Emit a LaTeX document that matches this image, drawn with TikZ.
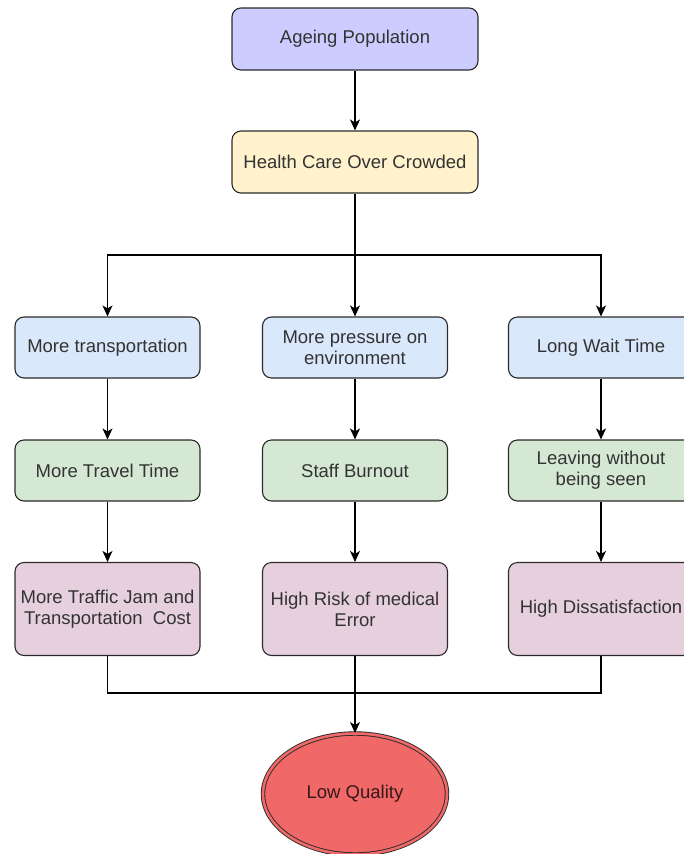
\documentclass[tikz,border=0pt]{standalone}
\usepackage{fontspec}
\setmainfont{Liberation Sans}
\usetikzlibrary{arrows.meta,shapes.geometric}

\definecolor{lavender}{HTML}{CCCCFF}
\definecolor{cream}{HTML}{FFF2CC}
\definecolor{paleblue}{HTML}{DAE8FC}
\definecolor{palegreen}{HTML}{D5E8D4}
\definecolor{palepink}{HTML}{E6D0DE}
\definecolor{warnred}{HTML}{F06868}
\definecolor{inkgray}{HTML}{333333}
\definecolor{edgegray}{HTML}{2B2B2B}

\begin{document}
\begin{tikzpicture}[x=1pt,y=-1pt,
  box/.style={rectangle, rounded corners=9pt, draw=edgegray, line width=1.1pt,
    align=center, text=inkgray, inner sep=2pt,
    font=\fontsize{18.5}{21}\selectfont},
  topbox/.style={box, minimum width=246pt, minimum height=62pt},
  colbox/.style={box, minimum width=185pt, minimum height=61pt},
  tallbox/.style={box, minimum width=185pt, minimum height=93pt},
  wire/.style={draw=black, line width=1.1pt},
  arr/.style={wire, -{Stealth[length=11pt, width=10pt, inset=3pt]}}]

\useasboundingbox (0,0) rectangle (684,854);
\clip (0,0) rectangle (684,854);

% top chain
\node[topbox, fill=lavender] (ap) at (355,39) {Ageing Population};
\node[topbox, fill=cream] (hc) at (355,162) {Health Care Over Crowded};

% first row of causes
\node[colbox, fill=paleblue] (ta) at (107.5,347.5) {More transportation};
\node[colbox, fill=paleblue] (tb) at (355,347.5) {More pressure on\\environment};
\node[colbox, fill=paleblue] (tc) at (601,347.5) {Long Wait Time};

% second row
\node[colbox, fill=palegreen] (ma) at (107.5,470.5) {More Travel Time};
\node[colbox, fill=palegreen] (mb) at (355,470.5) {Staff Burnout};
\node[colbox, fill=palegreen] (mc) at (601,470.5) {Leaving without\\being seen};

% third row
\node[tallbox, fill=palepink] (ba) at (107.5,609) {More Traffic Jam and\\Transportation\ \ Cost};
\node[tallbox, fill=palepink] (bb) at (355,609) {High Risk of medical\\Error};
\node[tallbox, fill=palepink] (bc) at (601,609) {High Dissatisfaction};

% outcome
\node[ellipse, minimum width=184pt, minimum height=121pt, fill=warnred,
  draw=edgegray, line width=0.9pt, double=warnred, double distance=2.6pt,
  text=inkgray!80!red!60!black, font=\fontsize{18.5}{21}\selectfont] (lq) at (355,794) {Low Quality};

\coordinate (split) at (355,255);
\coordinate (merge) at (355,693);

% connectors
\draw[arr] (ap) -- (hc);
\draw[wire] (hc.south) -- (split);
\draw[arr] (split) -| (ta.north);
\draw[arr] (split) -- (tb.north);
\draw[arr] (split) -| (tc.north);

\draw[arr] (ta) -- (ma);
\draw[arr] (tb) -- (mb);
\draw[arr] (tc) -- (mc);
\draw[arr] (ma) -- (ba);
\draw[arr] (mb) -- (bb);
\draw[arr] (mc) -- (bc);

\draw[wire] (ba.south) |- (merge);
\draw[wire] (bc.south) |- (merge);
\draw[arr] (bb.south) -- (lq.north);
\end{tikzpicture}
\end{document}
